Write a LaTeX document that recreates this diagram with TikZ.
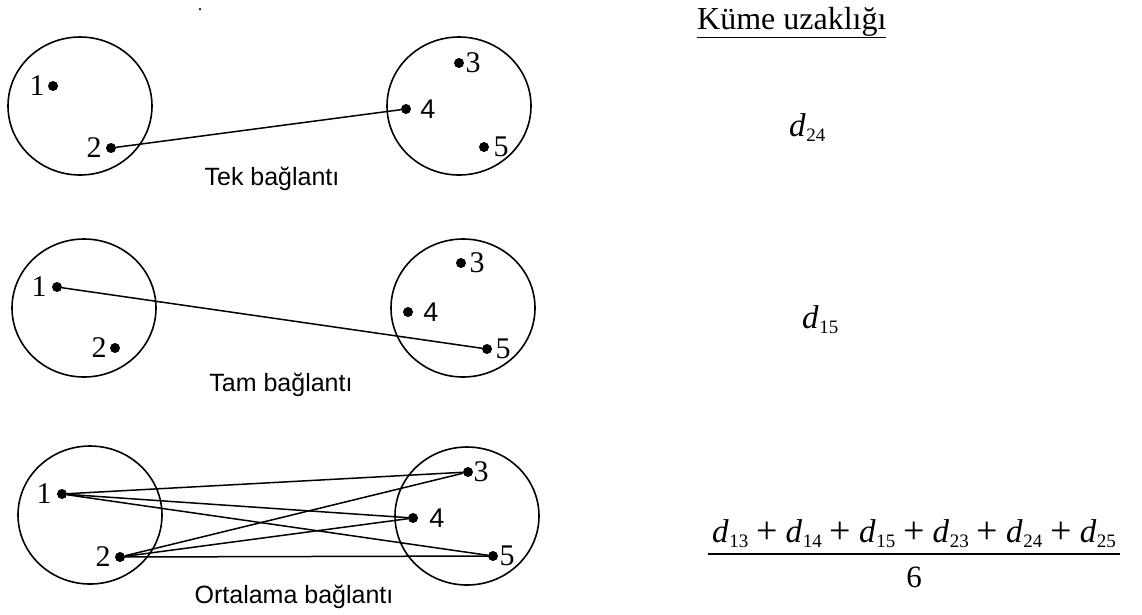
\RequirePackage{fix-cm}
\documentclass[tikz,border=0pt]{standalone}
\usepackage{fontspec}
\setmainfont{Liberation Serif}
\newfontfamily\capsans{Liberation Sans}
\usetikzlibrary{shapes.geometric}
\newcommand\dterm[1]{\textit{d}\kern0.5pt\raisebox{-5.5pt}{\fontsize{19}{19}\selectfont #1}}
\newcommand\plusop{\hspace{8pt}\raisebox{-1pt}{\fontsize{38}{38}\selectfont +}\hspace{8pt}}
\begin{document}
\begin{tikzpicture}[x=1pt,y=-1pt,
  clus/.style={draw, ellipse, line width=1.6pt, minimum width=144pt, minimum height=138pt, inner sep=0pt},
  pt/.style={circle, fill, inner sep=0pt, minimum size=10pt},
  link/.style={line width=1.5pt},
  num/.style={inner sep=0pt, font=\fontsize{30}{32}\selectfont},
  numsf/.style={inner sep=0pt, font=\capsans\fontsize{27}{30}\selectfont},
  captxt/.style={inner sep=0pt, anchor=base, font=\capsans\fontsize{25}{30}\selectfont},
  formula/.style={inner sep=0pt, font=\fontsize{33}{38}\selectfont},
  fracrule/.style={line width=1.5pt}]
\useasboundingbox (0,0) rectangle (1142,614);
\fill[white] (0,0) rectangle (1142,614);

\node[circle, fill, inner sep=0pt, minimum size=2.5pt] (speck) at (200,9) {};

% Row 1: Tek baglanti
\node[clus] (c1L) at (80,106) {};
\node[clus] (c1R) at (459,106) {};
\node[pt] (p11) at (53,86) {};
\node[pt] (p12) at (111,148) {};
\node[pt] (p13) at (459,63) {};
\node[pt] (p14) at (406,109) {};
\node[pt] (p15) at (484,147) {};
\node[num] (n11) at (37,86) {1};
\node[num] (n12) at (94,148) {2};
\node[num] (n13) at (473,63) {3};
\node[numsf] (n14) at (428,109) {4};
\node[num] (n15) at (501,147) {5};
\draw[link] (p12) -- (p14);
\node[captxt] (cap1) at (272,185) {Tek bağlantı};

% Row 2: Tam baglanti
\node[clus] (c2L) at (84,308) {};
\node[clus] (c2R) at (463,308) {};
\node[pt] (p21) at (57,287) {};
\node[pt] (p22) at (115,348) {};
\node[pt] (p23) at (461,263) {};
\node[pt] (p24) at (408,312) {};
\node[pt] (p25) at (487,349) {};
\node[num] (n21) at (39,287) {1};
\node[num] (n22) at (99,348) {2};
\node[num] (n23) at (477,263) {3};
\node[numsf] (n24) at (431,312) {4};
\node[num] (n25) at (503,349) {5};
\draw[link] (p21) -- (p25);
\node[captxt] (cap2) at (281,391) {Tam bağlantı};

% Row 3: Ortalama baglanti
\node[clus] (c3L) at (90,515) {};
\node[clus] (c3R) at (467,516) {};
\node[pt] (p31) at (62,494) {};
\node[pt] (p32) at (120,557) {};
\node[pt] (p33) at (468,472) {};
\node[pt] (p34) at (413,518) {};
\node[pt] (p35) at (493,556) {};
\node[num] (n31) at (44,494) {1};
\node[num] (n32) at (103,557) {2};
\node[num] (n33) at (481,472) {3};
\node[numsf] (n34) at (437,518) {4};
\node[num] (n35) at (507,556) {5};
\draw[link] (p31) -- (p33);
\draw[link] (p31) -- (p34);
\draw[link] (p31) -- (p35);
\draw[link] (p32) -- (p33);
\draw[link] (p32) -- (p34);
\draw[link] (p32) -- (p35);
\node[captxt] (cap3) at (294,603) {Ortalama bağlantı};

% Right column
\node[inner sep=0pt, anchor=base west, font=\fontsize{32}{38}\selectfont] (title) at (697,29) {\underline{Küme uzaklığı}};
\node[formula, anchor=base west] (f1) at (789,136) {\dterm{24}};
\node[formula, anchor=base west] (f2) at (802,328) {\dterm{15}};
\node[formula, anchor=base, inner xsep=4pt, inner ysep=0pt, text depth=12pt] (fnum) at (914,542)
  {\dterm{13}\plusop\dterm{14}\plusop\dterm{15}\plusop\dterm{23}\plusop\dterm{24}\plusop\dterm{25}};
\draw[fracrule] (fnum.south west) -- (fnum.south east);
\node[inner sep=0pt, anchor=base, font=\fontsize{31}{36}\selectfont] (fden) at (914,587) {6};
\end{tikzpicture}
\end{document}
